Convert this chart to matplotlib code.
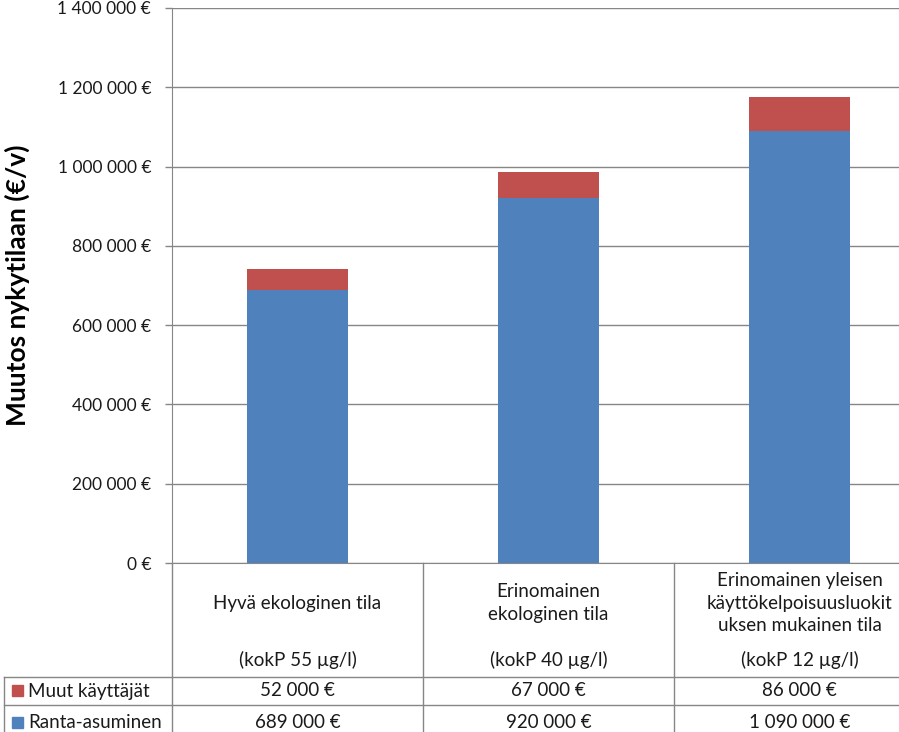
import matplotlib
matplotlib.use("Agg")
import matplotlib.pyplot as plt
import matplotlib.transforms as mtransforms
from matplotlib.ticker import FuncFormatter, MultipleLocator
from matplotlib.patches import Rectangle

plt.rcParams['font.family'] = ['Lato', 'DejaVu Sans']

categories = ["Hyvä ekologinen tila", "Erinomainen\nekologinen tila",
              "Erinomainen yleisen\nkäyttökelpoisuusluokit\nuksen mukainen tila"]
concentrations = ["(kokP 55 µg/l)", "(kokP 40 µg/l)", "(kokP 12 µg/l)"]
series_names = ["Muut käyttäjät", "Ranta-asuminen"]
muut = [52000, 67000, 86000]
ranta = [689000, 920000, 1090000]

blue = "#4F81BD"
red = "#C0504D"
grid_c = "#868686"
txt_c = "#1a1a1a"

W, H = 899, 732
fig = plt.figure(figsize=(W / 100, H / 100), dpi=100)

def fx(px):
    return px / W

def fy(py):
    return 1 - py / H

ax_left, ax_right, ax_top, ax_bot = 172, 925, 8, 563
ax = fig.add_axes([fx(ax_left), fy(ax_bot), (ax_right - ax_left) / W, (ax_bot - ax_top) / H])

def eur(v, pos=None):
    s = f"{int(round(v)):,}".replace(",", " ")
    return f"{s} €"

x = list(range(len(categories)))
ax.bar(x, ranta, width=0.4, color=blue, zorder=3)
ax.bar(x, muut, bottom=ranta, width=0.4, color=red, zorder=3)
ax.set_xlim(-0.5, len(categories) - 0.5)
ax.set_ylim(0, 1400000)
ax.yaxis.set_major_locator(MultipleLocator(200000))
ax.yaxis.set_major_formatter(FuncFormatter(eur))
ax.grid(axis='y', color=grid_c, linewidth=1.0, zorder=0)
ax.set_xticks([])
ax.tick_params(axis='y', length=5, width=1, color=grid_c, pad=10, labelsize=12.5, labelcolor=txt_c)
for s in ['top', 'right']:
    ax.spines[s].set_visible(False)
ax.spines['left'].set_color(grid_c)
ax.spines['bottom'].set_color(grid_c)

fig.text(fx(17), fy(285), "Muutos nykytilaan (€/v)", rotation=90, ha='center', va='center',
         fontsize=19, fontweight='bold', color="#000000")

# overlay for data table
ov = fig.add_axes([0, 0, 1, 1], facecolor='none')
ov.set_xlim(0, W)
ov.set_ylim(H, 0)
ov.axis('off')
bt = mtransforms.blended_transform_factory(ax.transData, ov.transData)

lw = 1.0
row1, row2, bottom = 677, 705, 740
for i in range(len(categories) + 1):
    ov.plot([i - 0.5, i - 0.5], [ax_bot, bottom], color=grid_c, lw=lw, transform=bt, clip_on=False)
for yy in [row1, row2]:
    ov.plot([4, W + 40], [yy, yy], color=grid_c, lw=lw, clip_on=False)
ov.plot([4, 4], [row1, bottom], color=grid_c, lw=lw, clip_on=False)

fs = 13.5
for i, (c, k) in enumerate(zip(categories, concentrations)):
    ov.text(i, 603, c, transform=bt, ha='center', va='center', fontsize=fs,
            linespacing=1.4, color=txt_c)
    ov.text(i, 660, k, transform=bt, ha='center', va='center', fontsize=fs, color=txt_c)
    ov.text(i, 691, eur(muut[i]), transform=bt, ha='center', va='center', fontsize=fs, color=txt_c)
    ov.text(i, 723, eur(ranta[i]), transform=bt, ha='center', va='center', fontsize=fs, color=txt_c)

for yc, col, name in [(691, red, series_names[0]), (723, blue, series_names[1])]:
    ov.add_patch(Rectangle((12, yc - 6), 11, 11, color=col, clip_on=False))
    ov.text(28, yc, name, ha='left', va='center', fontsize=fs, color=txt_c)

fig.savefig("out.png", dpi=100)
